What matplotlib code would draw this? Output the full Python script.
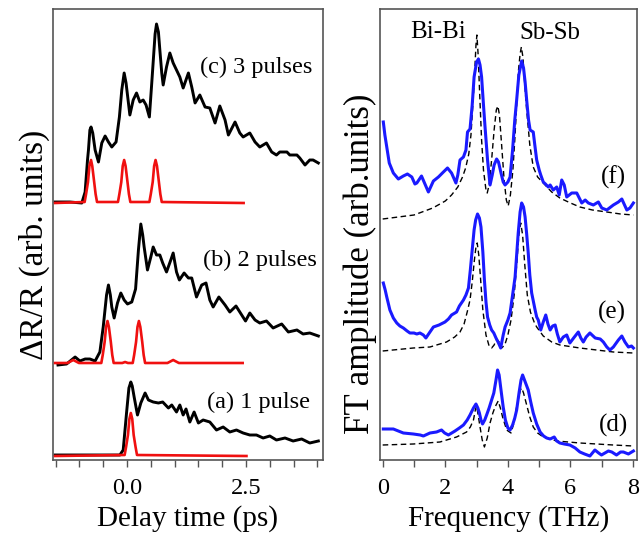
import numpy as np
import matplotlib
matplotlib.use("Agg")
import matplotlib.pyplot as plt
from matplotlib.ticker import MultipleLocator, FixedLocator

plt.rcParams['font.family'] = ['Liberation Serif', 'DejaVu Serif']

# ---- left panel: transient reflectivity (delay in ps, signal in arb. units, traces stacked) ----
t_c = [-1.51, -1.2, -0.95, -0.88, -0.83, -0.81, -0.78, -0.756, -0.72, -0.67, -0.60, -0.53, -0.46,
       -0.39, -0.32, -0.23, -0.16, -0.11, -0.06, -0.02, 0.03, 0.06, 0.13, 0.20, 0.27, 0.34, 0.40,
       0.47, 0.52, 0.59, 0.62, 0.66, 0.69, 0.73, 0.76, 0.83, 0.90, 0.97, 1.04, 1.11, 1.18, 1.29,
       1.36, 1.43, 1.53, 1.64, 1.74, 1.85, 1.95, 2.06, 2.13, 2.27, 2.37, 2.44, 2.58, 2.69, 2.79,
       2.93, 3.04, 3.14, 3.21, 3.36, 3.42, 3.57, 3.63, 3.74, 3.84, 3.91, 4.02]
r_c = [258, 258, 257, 268, 300, 310, 330, 333, 327, 310, 298, 317, 324,
       318, 313, 318, 343, 370, 387, 377, 357, 345, 360, 367, 358, 360, 355,
       343, 377, 426, 436, 428, 410, 387, 375, 393, 407, 397, 390, 383, 372, 387,
       373, 357, 365, 353, 352, 337, 354, 340, 325, 338, 327, 323, 327, 318, 313,
       317, 308, 305, 308, 308, 305, 305, 302, 295, 300, 300, 297]

pulse_t_c = [-1.51, -0.89, -0.86, -0.82, -0.79, -0.756, -0.73, -0.69, -0.66, -0.63,
             -0.19, -0.16, -0.12, -0.09, -0.06, -0.03, 0.01, 0.04, 0.07,
             0.47, 0.50, 0.54, 0.57, 0.60, 0.63, 0.67, 0.70, 0.73, 2.45]
pulse_r_c = [257, 258, 266, 278, 294, 300, 294, 278, 266, 258,
             258, 266, 278, 294, 300, 294, 278, 266, 258,
             258, 266, 278, 294, 300, 294, 278, 266, 258, 257]

t_b = [-1.45, -1.27, -1.09, -0.99, -0.88, -0.78, -0.67, -0.57, -0.50, -0.43, -0.39, -0.35,
       -0.32, -0.27, -0.20, -0.13, -0.06, 0.01, 0.10, 0.18, 0.24, 0.29, 0.33, 0.36, 0.43,
       0.50, 0.55, 0.62, 0.69, 0.75, 0.83, 0.92, 0.97, 1.04, 1.10, 1.20, 1.29, 1.36, 1.46,
       1.57, 1.66, 1.74, 1.81, 1.93, 2.06, 2.16, 2.29, 2.41, 2.49, 2.58, 2.69, 2.79, 2.93,
       3.07, 3.25, 3.39, 3.57, 3.70, 3.84, 4.02]
r_b = [95, 96, 103, 99, 101, 101, 99, 108, 133, 165, 175, 165,
       153, 142, 157, 167, 160, 156, 158, 171, 210, 236, 225, 213, 190,
       203, 213, 205, 205, 197, 188, 200, 207, 188, 180, 187, 182, 182, 163,
       175, 177, 160, 153, 163, 155, 148, 154, 145, 139, 147, 140, 137, 139,
       132, 136, 128, 130, 126, 127, 124]

pulse_t_b = [-1.51, -1.25, -1.13, -1.01, -0.54, -0.51, -0.47, -0.44, -0.41, -0.38, -0.34,
             -0.31, -0.28, -0.10, -0.04, 0.02, 0.12, 0.15, 0.19, 0.22, 0.25, 0.28, 0.32,
             0.35, 0.38, 0.85, 0.97, 1.09, 2.43]
pulse_r_b = [97, 97, 100, 97, 97, 105, 118, 133, 139, 133, 118,
             105, 97, 97, 98, 97, 97, 105, 118, 133, 139, 133, 118,
             105, 97, 97, 100, 97, 97]

t_a = [-1.51, -0.15, -0.08, -0.01, 0.04, 0.08, 0.11, 0.15, 0.22, 0.29, 0.38, 0.45, 0.55,
       0.66, 0.75, 0.87, 0.94, 1.04, 1.11, 1.18, 1.24, 1.32, 1.41, 1.50, 1.60, 1.74, 1.88,
       2.02, 2.16, 2.30, 2.44, 2.58, 2.72, 2.86, 3.00, 3.14, 3.32, 3.49, 3.67, 3.84, 4.02]
r_a = [5, 5, 10, 47, 72, 78, 74, 63, 45, 57, 67, 60, 58,
       57, 58, 52, 55, 48, 55, 45, 51, 38, 48, 37, 40, 38, 30,
       33, 28, 30, 27, 25, 25, 22, 24, 20, 22, 19, 21, 17, 19]

pulse_t_a = [-1.51, -0.05, -0.02, 0.02, 0.05, 0.08, 0.11, 0.14, 0.18, 0.21, 2.51]
pulse_r_a = [4, 5, 13, 25, 41, 47, 41, 25, 13, 5, 4]

# ---- right panel: FT spectra (THz) with fits ----
f_f = [0.02, 0.07, 0.11, 0.21, 0.34, 0.50, 0.66, 0.79, 0.93, 1.03, 1.09, 1.24, 1.46, 1.62,
       1.78, 1.94, 2.07, 2.20, 2.34, 2.40, 2.47, 2.58, 2.66, 2.71, 2.79, 2.86, 2.92, 3.00,
       3.06, 3.11, 3.16, 3.22, 3.27, 3.35, 3.43, 3.50, 3.56, 3.64, 3.70, 3.78, 3.85, 3.91,
       4.00, 4.07, 4.15, 4.22, 4.28, 4.35, 4.44, 4.50, 4.55, 4.60, 4.66, 4.71, 4.81, 4.86,
       4.92, 5.00, 5.05, 5.13, 5.20, 5.29, 5.35, 5.45, 5.56, 5.64, 5.72, 5.80, 5.88, 6.04,
       6.20, 6.36, 6.47, 6.57, 6.73, 6.89, 7.00, 7.16, 7.37, 7.53, 7.64, 7.80, 7.90, 8.01]
a_f = [338, 325, 317, 297, 287, 281, 284, 286, 283, 276, 277, 284, 268, 279,
       283, 288, 292, 287, 277, 285, 300, 303, 310, 328, 331, 355, 383, 398,
       401, 395, 383, 355, 333, 300, 275, 285, 295, 301, 298, 287, 278, 275,
       278, 283, 310, 340, 360, 385, 399, 392, 378, 360, 340, 330, 328, 315,
       300, 290, 285, 278, 276, 273, 275, 270, 273, 265, 280, 275, 263, 267,
       267, 257, 260, 257, 255, 258, 252, 250, 255, 258, 261, 250, 252, 257]
fit_f_x = [0.00, 0.50, 1.00, 1.60, 2.00, 2.20, 2.40, 2.55, 2.65, 2.75, 2.82, 2.90, 2.95,
           2.98, 3.01, 3.05, 3.10, 3.16, 3.22, 3.30, 3.34, 3.40, 3.48, 3.56, 3.63, 3.68,
           3.73, 3.80, 3.88, 3.95, 4.01, 4.08, 4.16, 4.22, 4.28, 4.34, 4.39, 4.43, 4.48,
           4.54, 4.60, 4.70, 4.81, 4.95, 5.13, 5.40, 5.66, 6.00, 6.30, 6.70, 7.16, 7.60, 8.01]
fit_f_y = [241, 243, 245, 252, 259, 265, 273, 283, 292, 306, 325, 365, 395,
           415, 425, 405, 365, 320, 290, 270, 267, 275, 300, 330, 350, 354,
           345, 315, 280, 260, 254, 265, 290, 320, 355, 390, 406, 413, 403,
           375, 350, 315, 293, 283, 277, 268, 262, 257, 253, 250, 248, 246, 245]

f_e = [0.02, 0.08, 0.13, 0.23, 0.34, 0.45, 0.55, 0.66, 0.78, 0.87, 1.00, 1.09, 1.19, 1.30,
       1.38, 1.51, 1.62, 1.80, 1.99, 2.10, 2.20, 2.36, 2.45, 2.58, 2.66, 2.74, 2.80, 2.86,
       2.92, 2.97, 3.03, 3.09, 3.14, 3.20, 3.25, 3.30, 3.35, 3.42, 3.48, 3.55, 3.62, 3.70,
       3.77, 3.85, 3.91, 4.00, 4.07, 4.15, 4.23, 4.28, 4.33, 4.39, 4.44, 4.50, 4.55, 4.60,
       4.65, 4.70, 4.76, 4.87, 4.92, 4.97, 5.05, 5.13, 5.21, 5.28, 5.35, 5.43, 5.51, 5.58,
       5.66, 5.77, 5.88, 5.98, 6.10, 6.25, 6.33, 6.41, 6.50, 6.62, 6.79, 6.95, 7.05, 7.16,
       7.26, 7.37, 7.53, 7.64, 7.74, 7.85, 7.95, 8.01]
a_e = [177, 170, 163, 150, 142, 137, 134, 132, 129, 127, 127, 126, 127, 125,
       122, 128, 133, 135, 138, 141, 145, 148, 154, 160, 165, 172, 190, 210,
       230, 240, 246, 242, 233, 208, 180, 158, 143, 135, 130, 127, 122, 117,
       112, 125, 133, 140, 147, 165, 183, 205, 227, 248, 257, 253, 243, 226,
       207, 185, 167, 150, 143, 140, 130, 138, 145, 136, 130, 134, 135, 126,
       118, 123, 125, 117, 122, 128, 122, 118, 123, 127, 122, 121, 118, 113,
       110, 113, 120, 124, 118, 113, 114, 112]
fit_e_x = [0.00, 0.98, 1.51, 2.04, 2.30, 2.47, 2.60, 2.70, 2.79, 2.86, 2.93, 2.98, 3.02,
           3.07, 3.13, 3.20, 3.30, 3.40, 3.48, 3.56, 3.64, 3.72, 3.80, 3.90, 4.00, 4.10,
           4.20, 4.28, 4.35, 4.41, 4.47, 4.54, 4.62, 4.72, 4.85, 4.92, 5.13, 5.40, 5.66,
           6.30, 7.37, 8.01]
fit_e_y = [109, 112, 113, 118, 123, 128, 136, 148, 160, 178, 200, 213, 217,
           205, 180, 150, 125, 114, 112, 115, 121, 118, 112, 115, 125, 140,
           165, 195, 225, 237, 225, 195, 165, 148, 137, 133, 124, 118, 115,
           112, 108, 107]

f_d = [0.02, 0.20, 0.34, 0.50, 0.66, 0.98, 1.20, 1.30, 1.51, 1.72, 1.88, 1.98, 2.10, 2.31,
       2.45, 2.58, 2.70, 2.79, 2.90, 2.98, 3.04, 3.09, 3.14, 3.19, 3.26, 3.32, 3.40, 3.48,
       3.55, 3.62, 3.67, 3.72, 3.78, 3.85, 3.92, 4.00, 4.07, 4.15, 4.22, 4.28, 4.36, 4.42,
       4.47, 4.53, 4.59, 4.65, 4.73, 4.81, 4.92, 5.03, 5.14, 5.24, 5.35, 5.48, 5.56, 5.66,
       5.80, 5.98, 6.15, 6.30, 6.45, 6.62, 6.78, 6.90, 6.99, 7.10, 7.21, 7.32, 7.47, 7.60,
       7.69, 7.85, 8.01]
a_d = [31, 31, 31, 29, 27, 26, 25, 24, 27, 28, 30, 27, 25, 29,
       32, 35, 40, 45, 52, 56, 52, 47, 40, 36, 40, 45, 52, 60,
       67, 80, 90, 85, 70, 53, 40, 32, 30, 35, 42, 50, 68, 80,
       85, 80, 75, 70, 58, 47, 36, 28, 24, 22, 21, 23, 19, 17,
       16, 15, 12, 8, 6, 4, 10, 7, 5, 7, 9, 8, 5, 8,
       8, 6, 9]
fit_d_x = [0.00, 0.98, 1.83, 2.36, 2.68, 2.80, 2.90, 2.96, 3.00, 3.05, 3.11, 3.18, 3.25,
           3.34, 3.43, 3.52, 3.59, 3.69, 3.76, 3.83, 3.96, 4.10, 4.20, 4.26, 4.34, 4.40,
           4.44, 4.50, 4.60, 4.70, 4.81, 4.95, 5.13, 5.56, 6.30, 7.37, 8.01]
fit_d_y = [15, 16, 18, 23, 28, 33, 40, 50, 54, 45, 33, 20, 13,
           22, 37, 47, 53, 59, 52, 43, 30, 27, 38, 50, 62, 70,
           72, 67, 55, 43, 33, 27, 23, 19, 17, 15, 14]

delay_labels = ['(c) 3 pulses', '(b) 2 pulses', '(a) 1 pulse']
spec_labels = ['(f)', '(e)', '(d)']

edge = '#555555'
fig = plt.figure(figsize=(6.41, 5.38), dpi=100)
ax1 = fig.add_axes([53 / 641, 78 / 538, 270 / 641, 451 / 538])
ax2 = fig.add_axes([380 / 641, 78 / 538, 257 / 641, 451 / 538])

# left panel
for t, r in [(t_c, r_c), (t_b, r_b), (t_a, r_a)]:
    ax1.plot(t, r, color='black', lw=2.1, solid_joinstyle='round', zorder=2)
for t, r in [(pulse_t_c, pulse_r_c), (pulse_t_b, pulse_r_b), (pulse_t_a, pulse_r_a)]:
    ax1.plot(t, r, color='#f01010', lw=1.9, solid_joinstyle='round', zorder=3)

for txt, (x, y) in zip(delay_labels, [(2.72, 393), (2.79, 200), (2.76, 58)]):
    ax1.text(x, y, txt, fontsize=17.5, ha='center', va='center')

ax1.set_xlim(-1.555, 4.118)
ax1.set_ylim(0, 451)
ax1.xaxis.set_major_locator(FixedLocator([0.0, 2.5]))
ax1.set_xticklabels(['0.0', '2.5'])
ax1.xaxis.set_minor_locator(MultipleLocator(0.5))
ax1.set_yticks([])
ax1.set_xlabel('Delay time (ps)', fontsize=21, labelpad=4)
ax1.set_ylabel('ΔR/R (arb. units)', fontsize=24)
ax1.yaxis.set_label_coords(-0.012, 0.477)

# right panel
for f, a in [(f_f, a_f), (f_e, a_e), (f_d, a_d)]:
    ax2.plot(f, a, color='#1a1aff', lw=2.2, solid_joinstyle='round', zorder=3)
for fx, fy in [(fit_f_x, fit_f_y), (fit_e_x, fit_e_y), (fit_d_x, fit_d_y)]:
    ax2.plot(fx, fy, color='black', lw=1.0, ls=(0, (4, 2.5)), zorder=2)

ax2.text(1.78, 428, 'Bi-Bi', fontsize=18, ha='center', va='center')
ax2.text(5.35, 427, 'Sb-Sb', fontsize=18, ha='center', va='center')
for txt, (x, y) in zip(spec_labels, [(7.37, 283), (7.32, 148), (7.37, 35)]):
    ax2.text(x, y, txt, fontsize=18, ha='center', va='center')

ax2.set_xlim(-0.086, 8.125)
ax2.set_ylim(0, 451)
ax2.xaxis.set_major_locator(MultipleLocator(2))
ax2.xaxis.set_minor_locator(MultipleLocator(1))
ax2.set_yticks([])
ax2.set_xlabel('Frequency (THz)', fontsize=21, labelpad=4)
ax2.set_ylabel('FT amplitude (arb.units)', fontsize=25)
ax2.yaxis.set_label_coords(-0.01, 0.434)

for ax in (ax1, ax2):
    for s in ax.spines.values():
        s.set_color(edge)
        s.set_linewidth(1.2)
    ax.tick_params(axis='x', which='both', direction='out', length=5, width=1,
                   color=edge, labelsize=17.5, pad=8)

fig.savefig('out.png', dpi=100)
